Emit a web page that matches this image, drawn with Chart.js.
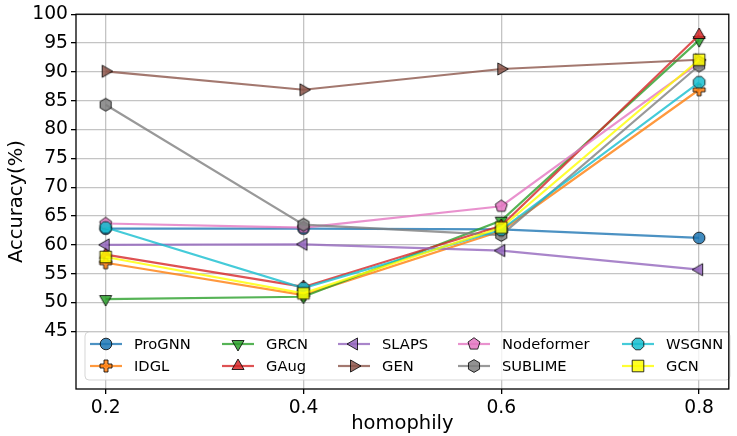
<!DOCTYPE html>
<html lang="en">
  <head>
    <meta charset="UTF-8" />
    <title>Accuracy vs homophily</title>
    <style>
      html, body { margin: 0; padding: 0; background: #fff; }
      .container { width: 737px; height: 436px; }
    </style>
  </head>
  <body>
    <div class="container">
      <canvas id="myChart"></canvas>
    </div>
    <script src="https://cdn.jsdelivr.net/npm/chart.js@4.4.0/dist/chart.umd.min.js"></script>
    <script>
      const homophily = [0.2, 0.4, 0.6, 0.8];
      const yTicks = [45, 50, 55, 60, 65, 70, 75, 80, 85, 90, 95, 100];

      const ProGNN = [62.8, 62.8, 62.7, 61.2];
      const IDGL = [56.9, 51.3, 62.4, 86.9];
      const GRCN = [50.6, 51.0, 64.2, 95.5];
      const GAug = [58.3, 52.7, 63.3, 96.4];
      const SLAPS = [60.0, 60.1, 59.0, 55.7];
      const GEN = [90.1, 86.9, 90.5, 92.1];
      const Nodeformer = [63.7, 63.0, 66.7, 91.6];
      const SUBLIME = [84.3, 63.5, 61.7, 91.1];
      const WSGNN = [63.0, 52.5, 62.6, 88.2];
      const GCN = [57.9, 51.6, 63.0, 92.1];

      const FONT = "'DejaVu Sans', sans-serif";

      // name, values, colour, marker
      const series = [
        ["ProGNN", ProGNN, [31, 119, 180], "circle"],
        ["IDGL", IDGL, [255, 127, 14], "plus"],
        ["GRCN", GRCN, [44, 160, 44], "tridown"],
        ["GAug", GAug, [214, 39, 40], "triup"],
        ["SLAPS", SLAPS, [148, 103, 189], "trileft"],
        ["GEN", GEN, [140, 86, 75], "triright"],
        ["Nodeformer", Nodeformer, [227, 119, 194], "pentagon"],
        ["SUBLIME", SUBLIME, [127, 127, 127], "hexagon"],
        ["WSGNN", WSGNN, [23, 190, 207], "octagon"],
        ["GCN", GCN, [255, 255, 0], "square"],
      ];

      function rgba(c, a) {
        return "rgba(" + c[0] + "," + c[1] + "," + c[2] + "," + a + ")";
      }

      function polygon(ctx, n, r, startAngle) {
        ctx.beginPath();
        for (let i = 0; i < n; i++) {
          const a = startAngle + (i * 2 * Math.PI) / n;
          const px = r * Math.cos(a), py = r * Math.sin(a);
          if (i === 0) ctx.moveTo(px, py);
          else ctx.lineTo(px, py);
        }
        ctx.closePath();
      }

      // marker images, drawn once per series
      function makeMarker(shape, color) {
        const size = 18;
        const cv = document.createElement("canvas");
        cv.width = size;
        cv.height = size;
        const ctx = cv.getContext("2d");
        ctx.translate(size / 2, size / 2);
        const up = -Math.PI / 2;
        if (shape === "circle") {
          ctx.beginPath();
          ctx.arc(0, 0, 5.8, 0, Math.PI * 2);
        } else if (shape === "square") {
          ctx.beginPath();
          ctx.rect(-5.8, -5.8, 11.6, 11.6);
        } else if (shape === "triup") {
          polygon(ctx, 3, 7, up);
        } else if (shape === "tridown") {
          polygon(ctx, 3, 7, Math.PI / 2);
        } else if (shape === "trileft") {
          polygon(ctx, 3, 7, Math.PI);
        } else if (shape === "triright") {
          polygon(ctx, 3, 7, 0);
        } else if (shape === "pentagon") {
          polygon(ctx, 5, 6.3, up);
        } else if (shape === "hexagon") {
          polygon(ctx, 6, 6.4, up);
        } else if (shape === "octagon") {
          polygon(ctx, 8, 6.3, Math.PI / 8);
        } else if (shape === "plus") {
          const a = 6, b = 2;
          ctx.beginPath();
          ctx.moveTo(-b, -a); ctx.lineTo(b, -a); ctx.lineTo(b, -b);
          ctx.lineTo(a, -b); ctx.lineTo(a, b); ctx.lineTo(b, b);
          ctx.lineTo(b, a); ctx.lineTo(-b, a); ctx.lineTo(-b, b);
          ctx.lineTo(-a, b); ctx.lineTo(-a, -b); ctx.lineTo(-b, -b);
          ctx.closePath();
        }
        ctx.fillStyle = rgba(color, 0.85);
        ctx.fill();
        ctx.lineWidth = 1;
        ctx.strokeStyle = "rgba(0,0,0,0.8)";
        ctx.stroke();
        return cv;
      }

      const markers = series.map((s) => makeMarker(s[3], s[2]));

      const datasets = series.map((s, i) => ({
        label: s[0],
        data: homophily.map((x, j) => ({ x: x, y: s[1][j] })),
        borderColor: rgba(s[2], 0.8),
        borderWidth: 2.2,
        pointStyle: markers[i],
        pointRadius: 6,
        pointHoverRadius: 6,
        order: -i,
      }));

      // legend: 5 columns, column-major like matplotlib
      const legendCols = [90, 222, 338, 458, 622];
      const legendRows = [344, 366];

      const legendPlugin = {
        id: "boxLegend",
        afterDatasetsDraw(chart) {
          const ctx = chart.ctx;
          ctx.save();
          const bx = 85, by = 332, bw = 645, bh = 48, r = 4;
          ctx.beginPath();
          ctx.roundRect(bx, by, bw, bh, r);
          ctx.fillStyle = "rgba(255,255,255,0.8)";
          ctx.fill();
          ctx.strokeStyle = "rgba(204,204,204,0.8)";
          ctx.lineWidth = 1;
          ctx.stroke();
          ctx.font = "14.7px " + FONT;
          ctx.textBaseline = "middle";
          ctx.fillStyle = "#000";
          series.forEach((s, i) => {
            const col = Math.floor(i / 2), row = i % 2;
            const x = legendCols[col], y = legendRows[row];
            ctx.strokeStyle = rgba(s[2], 0.8);
            ctx.lineWidth = 2.2;
            ctx.beginPath();
            ctx.moveTo(x, y);
            ctx.lineTo(x + 32, y);
            ctx.stroke();
            const m = markers[i];
            ctx.drawImage(m, x + 16 - m.width / 2, y - m.height / 2);
            ctx.fillStyle = "#000";
            ctx.fillText(s[0], x + 44, y + 1);
          });
          ctx.restore();
        },
        afterDraw(chart) {
          const a = chart.chartArea;
          const ctx = chart.ctx;
          ctx.save();
          ctx.strokeStyle = "#000";
          ctx.lineWidth = 1.3;
          ctx.strokeRect(a.left, a.top, a.right - a.left, a.bottom - a.top);
          ctx.restore();
        },
      };

      const ctx = document.getElementById("myChart").getContext("2d");
      const myChart = new Chart(ctx, {
        type: "line",
        data: { datasets: datasets },
        plugins: [legendPlugin],
        options: {
          responsive: true,
          maintainAspectRatio: false,
          animation: false,
          layout: { padding: { top: 14, right: 1, left: 0, bottom: 0 } },
          plugins: { legend: { display: false }, tooltip: { enabled: false } },
          scales: {
            x: {
              type: "linear",
              min: 0.17,
              max: 0.83,
              afterBuildTicks: (scale) => {
                scale.ticks = homophily.map((v) => ({ value: v }));
              },
              afterFit: (scale) => {
                scale.height = 47;
              },
              ticks: {
                font: { family: FONT, size: 18.7 },
                color: "#000",
                padding: 3,
                callback: (v) => v.toFixed(1),
              },
              grid: {
                color: "rgba(176,176,176,0.75)",
                lineWidth: 1.3,
                tickLength: 5,
                tickColor: "#000",
              },
              border: { display: false },
              title: {
                display: true,
                text: "homophily",
                font: { family: FONT, size: 19.5 },
                color: "#000",
                padding: { top: 2, bottom: 0 },
              },
            },
            y: {
              min: 35,
              max: 100,
              afterBuildTicks: (scale) => {
                scale.ticks = yTicks.map((v) => ({ value: v }));
              },
              afterFit: (scale) => {
                scale.width = 76;
              },
              ticks: {
                font: { family: FONT, size: 18.7 },
                color: "#000",
                padding: 3,
              },
              grid: {
                color: "rgba(176,176,176,0.75)",
                lineWidth: 1.3,
                tickLength: 5,
                tickColor: "#000",
              },
              border: { display: false },
              title: {
                display: true,
                text: "Accuracy(%)",
                font: { family: FONT, size: 19.5 },
                color: "#000",
                padding: { top: 5, bottom: 0 },
              },
            },
          },
        },
      });
    </script>
  </body>
</html>
